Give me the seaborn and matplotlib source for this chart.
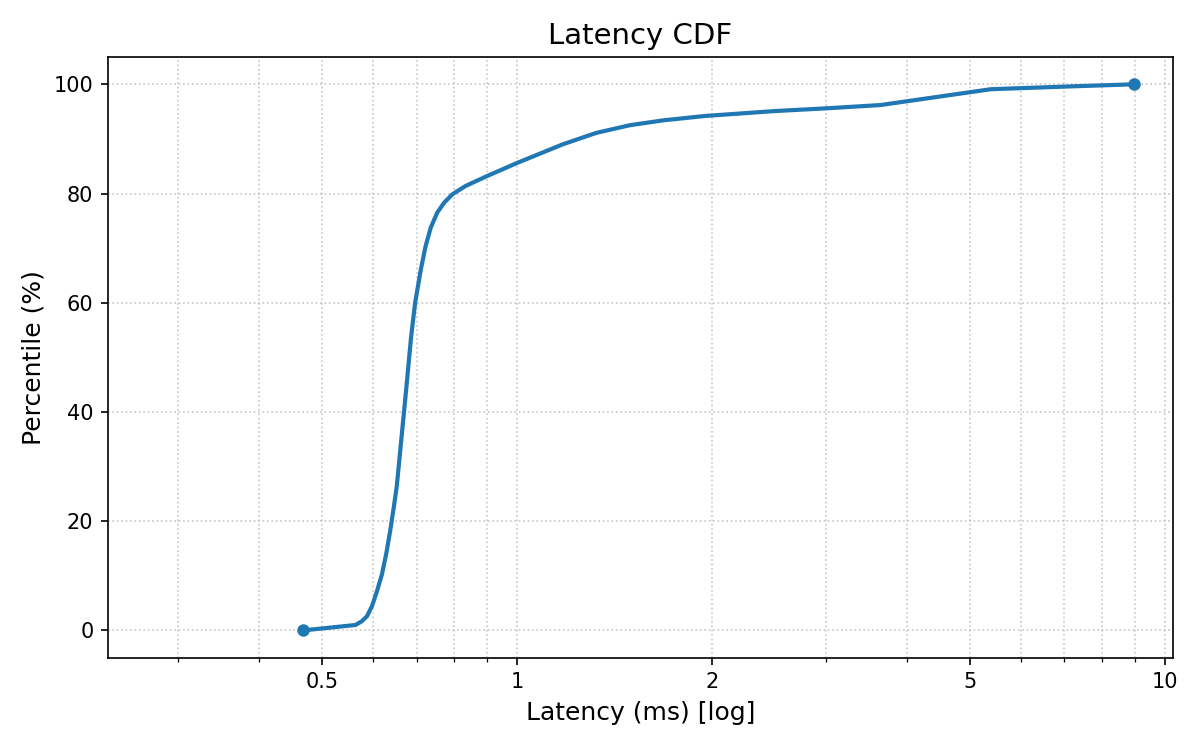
import numpy as np
import pandas as pd
import matplotlib
matplotlib.use("Agg")
import matplotlib.pyplot as plt
from matplotlib.ticker import NullFormatter
import seaborn as sns

# ---- values ----
latency_ms = [0.467, 0.563, 0.576, 0.5865, 0.597, 0.6077, 0.6186, 0.6284,
              0.6374, 0.645, 0.652, 0.661, 0.669, 0.677, 0.686, 0.696, 0.710,
              0.7225, 0.7357, 0.7528, 0.7714, 0.7943, 0.8332, 0.8951, 1.0,
              1.176, 1.325, 1.492, 1.681, 1.95, 2.5, 3.0, 3.64, 5.39, 7.09,
              8.96]
percentile = [0, 1.0, 1.7, 2.6, 4.45, 7.2, 10.3, 14.2, 18.5, 22.5, 26.4, 33.7,
              40.0, 46.4, 53.7, 60.0, 66.0, 70.4, 73.75, 76.5, 78.3, 79.85,
              81.4, 83.1, 85.6, 89.0, 91.1, 92.5, 93.4, 94.2, 95.1, 95.6, 96.2,
              99.1, 99.6, 100]
tick_values = [0.5, 1, 2, 5, 10]
tick_labels = ["0.5", "1", "2", "5", "10"]

df = pd.DataFrame({"latency": latency_ms, "pct": percentile})

fig, ax = plt.subplots(figsize=(8, 5), dpi=150)

sns.lineplot(data=df, x="latency", y="pct", ax=ax, color="#1f77b4",
             linewidth=2, marker="o", markersize=6, markevery=[0, len(df) - 1],
             markeredgewidth=0)

ax.set_xscale("log")
ax.set_xlim(latency_ms[0] * 0.5, latency_ms[-1] * 1.15)
ax.set_xticks(tick_values)
ax.set_xticklabels(tick_labels)
ax.xaxis.set_minor_formatter(NullFormatter())

ax.grid(True, which="both", linestyle=":", color="#b0b0b0", alpha=0.7, linewidth=0.8)

ax.set_title("Latency CDF", fontsize=14)
ax.set_xlabel("Latency (ms) [log]", fontsize=12)
ax.set_ylabel("Percentile (%)", fontsize=12)
ax.tick_params(labelsize=10)

fig.subplots_adjust(left=0.09, right=0.9775, top=0.924, bottom=0.123)
fig.savefig("out.png", dpi=150)
